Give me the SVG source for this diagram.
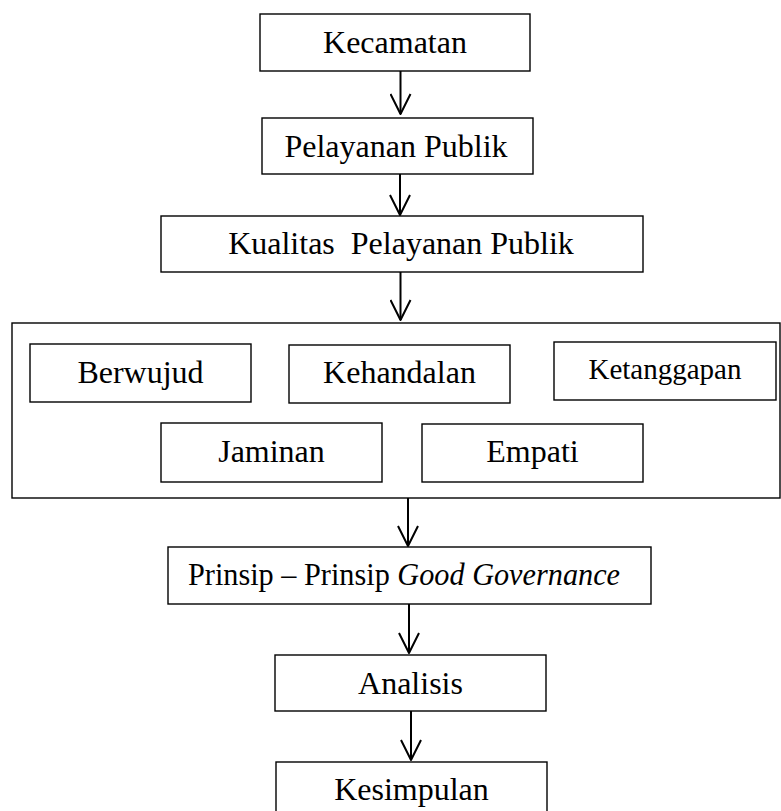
<svg xmlns="http://www.w3.org/2000/svg" width="781" height="811" viewBox="0 0 781 811">
<defs>
<style>
.box{fill:#fff;stroke:#000;stroke-width:1.4}
.t{font-family:"Liberation Serif","Times New Roman",serif;font-size:32px;fill:#000;text-anchor:middle}
.it{font-style:italic}
.conn line{stroke:#000;stroke-width:2}
</style>
<marker id="arr" viewBox="0 0 22 22" refX="21" refY="11" markerWidth="22" markerHeight="22" markerUnits="userSpaceOnUse" orient="auto">
<path d="M1,1 L21,11 L1,21" fill="none" stroke="#000" stroke-width="2" stroke-linejoin="round"/>
</marker>
</defs>
<rect width="781" height="811" fill="#fff"/>
<g id="group-dimensi">
<rect class="box" x="12" y="323" width="768" height="175"/>
</g>
<g id="kecamatan">
<rect class="box" x="260" y="14" width="270" height="57"/>
<text class="t" x="395" y="53">Kecamatan</text>
</g>
<g id="pelayanan-publik">
<rect class="box" x="262" y="118" width="271" height="56"/>
<text class="t" x="396" y="157">Pelayanan Publik</text>
</g>
<g id="kualitas">
<rect class="box" x="161" y="216" width="482" height="56"/>
<text class="t" x="401" y="254" xml:space="preserve">Kualitas  Pelayanan Publik</text>
</g>
<g id="berwujud">
<rect class="box" x="30" y="344" width="221" height="58"/>
<text class="t" x="140.5" y="383">Berwujud</text>
</g>
<g id="kehandalan">
<rect class="box" x="289" y="345" width="221" height="58"/>
<text class="t" x="399.5" y="383">Kehandalan</text>
</g>
<g id="ketanggapan">
<rect class="box" x="554" y="342" width="222" height="58"/>
<text class="t" x="665" y="379" style="font-size:29px">Ketanggapan</text>
</g>
<g id="jaminan">
<rect class="box" x="161" y="423" width="221" height="59"/>
<text class="t" x="271.5" y="462">Jaminan</text>
</g>
<g id="empati">
<rect class="box" x="422" y="424" width="221" height="58"/>
<text class="t" x="532.5" y="462">Empati</text>
</g>
<g id="prinsip">
<rect class="box" x="168" y="547" width="483" height="57"/>
<text class="t" x="188" y="585" style="text-anchor:start" textLength="432" lengthAdjust="spacingAndGlyphs">Prinsip – Prinsip <tspan class="it">Good Governance</tspan></text>
</g>
<g id="analisis">
<rect class="box" x="275" y="655" width="271" height="56"/>
<text class="t" x="410.5" y="694">Analisis</text>
</g>
<g id="kesimpulan">
<rect class="box" x="276" y="762" width="271" height="60"/>
<text class="t" x="411.5" y="800">Kesimpulan</text>
</g>
<g id="connectors" class="conn">
<line x1="400.5" y1="71" x2="400.5" y2="114" marker-end="url(#arr)"/>
<line x1="400" y1="174" x2="400" y2="215" marker-end="url(#arr)"/>
<line x1="400.5" y1="272" x2="400.5" y2="320" marker-end="url(#arr)"/>
<line x1="408" y1="498" x2="408" y2="546" marker-end="url(#arr)"/>
<line x1="409" y1="604" x2="409" y2="653" marker-end="url(#arr)"/>
<line x1="411" y1="711" x2="411" y2="760" marker-end="url(#arr)"/>
</g>
</svg>
